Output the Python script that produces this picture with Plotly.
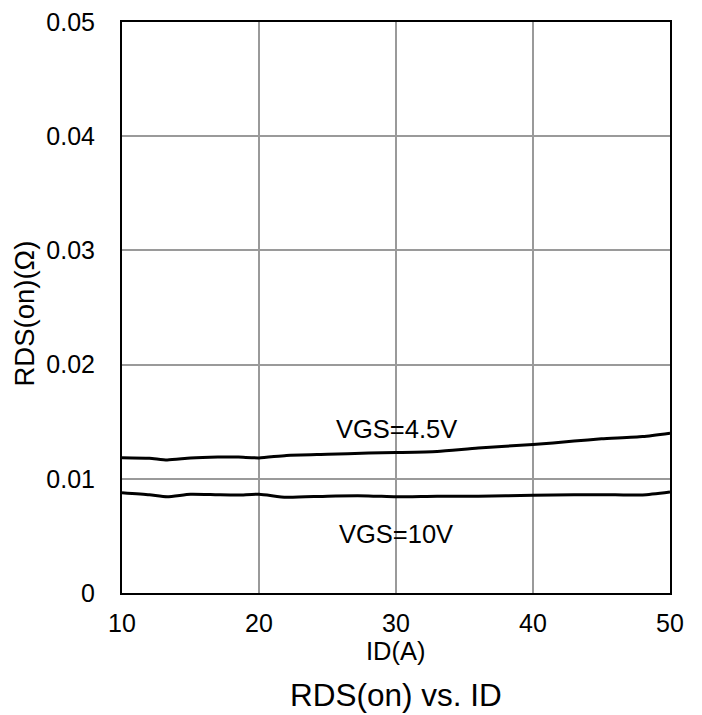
import plotly.graph_objects as go

id_45 = [10, 12, 13.3, 15, 17, 18.5, 20, 22, 25, 28, 30, 33, 36, 40, 43, 45, 48, 50]
rds_45 = [0.01185, 0.0118, 0.01165, 0.01182, 0.0119, 0.0119, 0.01183, 0.01205, 0.01215, 0.01225, 0.0123, 0.0124, 0.0127, 0.0130, 0.0133, 0.0135, 0.0137, 0.0140]

id_10 = [10, 12, 13.3, 15, 17, 18.5, 20, 22, 25, 28, 30, 33, 36, 40, 43, 46, 48, 50]
rds_10 = [0.00878, 0.0086, 0.00843, 0.00865, 0.0086, 0.00858, 0.00865, 0.00838, 0.00848, 0.0085, 0.00842, 0.00848, 0.00848, 0.00855, 0.0086, 0.0086, 0.00858, 0.00884]

x_ticks = [10, 20, 30, 40, 50]
y_ticks = [0, 0.01, 0.02, 0.03, 0.04, 0.05]
y_tick_text = ["0", "0.01", "0.02", "0.03", "0.04", "0.05"]

font = "Liberation Sans, Arial, sans-serif"
black = "black"

fig = go.Figure()
fig.add_trace(go.Scatter(x=id_45, y=rds_45, mode="lines", name="VGS=4.5V",
                         line=dict(color=black, width=3, shape="spline", smoothing=0.6), showlegend=False))
fig.add_trace(go.Scatter(x=id_10, y=rds_10, mode="lines", name="VGS=10V",
                         line=dict(color=black, width=3, shape="spline", smoothing=0.6), showlegend=False))

fig.add_annotation(x=30, y=0.01436, text="VGS=4.5V", showarrow=False, font=dict(size=25.5, color=black, family=font))
fig.add_annotation(x=30, y=0.00517, text="VGS=10V", showarrow=False, font=dict(size=25.5, color=black, family=font))

# axis titles and chart title
fig.add_annotation(x=0.5, y=0, xref="paper", yref="paper", text="ID(A)", showarrow=False,
                   yanchor="middle", yshift=-58, font=dict(size=25.5, color=black, family=font))
fig.add_annotation(x=0, y=0.5, xref="paper", yref="paper", text="RDS(on)(Ω)", showarrow=False, textangle=-90,
                   xanchor="center", yshift=-6, xshift=-98, font=dict(size=27.5, color=black, family=font))
fig.add_annotation(x=0.5, y=0, xref="paper", yref="paper", text="RDS(on) vs. ID", showarrow=False,
                   yanchor="middle", yshift=-102, font=dict(size=31.5, color=black, family=font))

fig.update_xaxes(range=[10, 50], tickvals=x_ticks, showgrid=True, gridcolor="#9a9a9a", gridwidth=1.5,
                 showline=True, linecolor=black, linewidth=2, mirror=True, zeroline=False,
                 ticks="", ticklabelstandoff=7, ticklabeloverflow="allow", automargin=False,
                 tickfont=dict(size=25, color=black, family=font))
fig.update_yaxes(range=[0, 0.05], tickvals=y_ticks, ticktext=y_tick_text, showgrid=True, gridcolor="#9a9a9a", gridwidth=1.5,
                 showline=True, linecolor=black, linewidth=2, mirror=True, zeroline=False,
                 ticks="", ticklabelstandoff=20, ticklabeloverflow="allow", automargin=False,
                 tickfont=dict(size=25, color=black, family=font))

fig.update_layout(width=694, height=707, margin=dict(l=114, r=32, t=14, b=122),
                  plot_bgcolor="white", paper_bgcolor="white")

fig.write_html("out.html")
